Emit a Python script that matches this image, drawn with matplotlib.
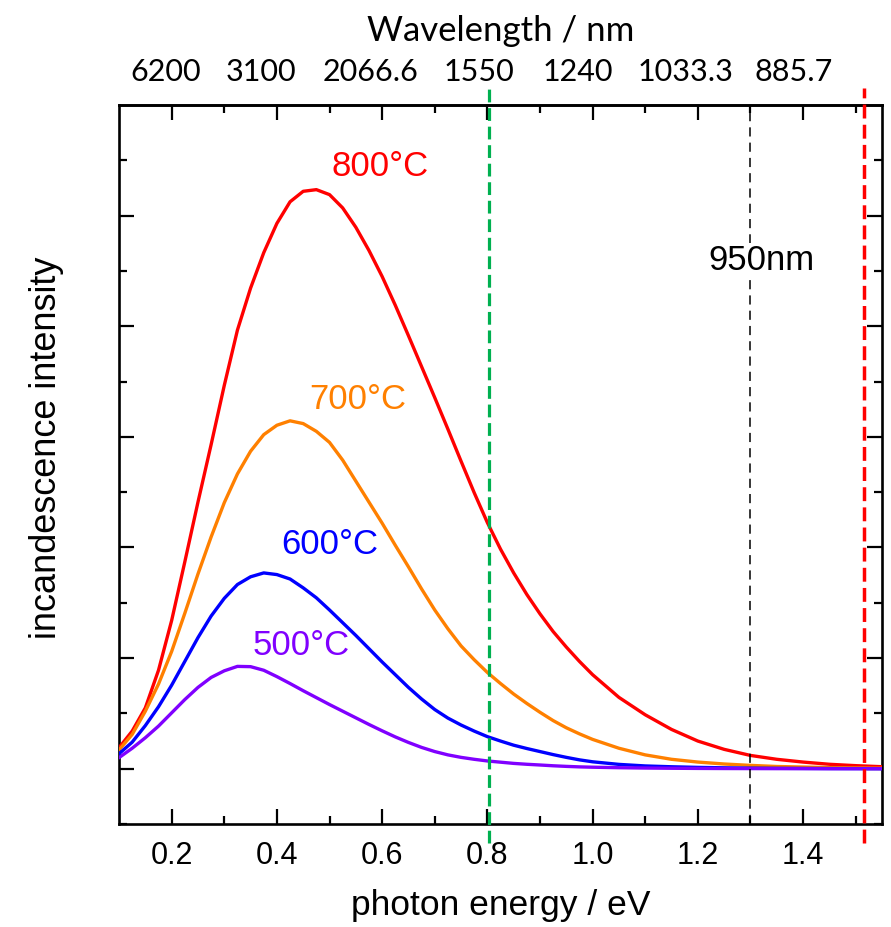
import matplotlib
matplotlib.use("Agg")
import matplotlib.pyplot as plt
import matplotlib.transforms as mtransforms
import numpy as np

# photon energy grid (eV)
energy = [0.100, 0.125, 0.150, 0.175, 0.200, 0.225, 0.250, 0.275, 0.300,
          0.325, 0.350, 0.375, 0.400, 0.425, 0.450, 0.475, 0.500, 0.525,
          0.550, 0.575, 0.600, 0.625, 0.650, 0.675, 0.700, 0.725, 0.750,
          0.775, 0.800, 0.825, 0.850, 0.875, 0.900, 0.925, 0.950, 0.975,
          1.000, 1.05, 1.10, 1.15, 1.20, 1.25, 1.30, 1.35, 1.40, 1.45,
          1.50, 1.55]

# incandescence intensity (arb. units) at each temperature
t800 = [0.38, 0.68, 1.10, 1.78, 2.68, 3.74, 4.82, 5.86, 6.93, 7.93, 8.69,
        9.33, 9.86, 10.25, 10.44, 10.47, 10.38, 10.14, 9.79, 9.37, 8.90,
        8.38, 7.83, 7.27, 6.71, 6.14, 5.56, 4.99, 4.45, 3.97, 3.54, 3.15,
        2.80, 2.48, 2.20, 1.94, 1.70, 1.29, 0.975, 0.71, 0.50, 0.35, 0.24,
        0.17, 0.12, 0.08, 0.055, 0.036]
t700 = [0.34, 0.62, 1.04, 1.53, 2.12, 2.81, 3.52, 4.19, 4.81, 5.33, 5.74,
        6.04, 6.21, 6.29, 6.24, 6.10, 5.90, 5.58, 5.20, 4.82, 4.44, 4.04,
        3.65, 3.25, 2.87, 2.53, 2.22, 1.97, 1.74, 1.54, 1.35, 1.18, 1.02,
        0.87, 0.74, 0.63, 0.53, 0.37, 0.25, 0.17, 0.12, 0.085, 0.06, 0.04,
        0.03, 0.02, 0.015, 0.01]
t600 = [0.27, 0.48, 0.78, 1.12, 1.51, 1.94, 2.37, 2.76, 3.08, 3.33, 3.47,
        3.54, 3.51, 3.43, 3.27, 3.09, 2.87, 2.64, 2.41, 2.17, 1.93, 1.70,
        1.47, 1.26, 1.07, 0.915, 0.79, 0.68, 0.58, 0.50, 0.425, 0.365,
        0.31, 0.255, 0.205, 0.16, 0.125, 0.078, 0.05, 0.035, 0.024, 0.016,
        0.01, 0.007, 0.005, 0.003, 0.002, 0.001]
t500 = [0.20, 0.37, 0.56, 0.77, 1.01, 1.25, 1.47, 1.65, 1.77, 1.85, 1.845,
        1.78, 1.665, 1.54, 1.41, 1.285, 1.16, 1.04, 0.92, 0.80, 0.685,
        0.575, 0.475, 0.385, 0.31, 0.25, 0.205, 0.17, 0.14, 0.118, 0.096,
        0.08, 0.067, 0.053, 0.042, 0.033, 0.027, 0.018, 0.012, 0.008,
        0.005, 0.003, 0.002, 0.001, 0.001, 0.0, 0.0, 0.0]

series = [("800°C", t800, "#FF0000"),
          ("700°C", t700, "#FF8000"),
          ("600°C", t600, "#0000FF"),
          ("500°C", t500, "#8000FF")]

# curve name positions (energy, baseline height)
label_pos = [(0.596, 10.71), (0.554, 6.50), (0.501, 3.875), (0.446, 2.05)]

# top-axis wavelength labels
top_ticks = [0.2, 0.4, 0.6, 0.8, 1.0, 1.2, 1.4]
top_labels = ["6200", "3100", "2066.6", "1550", "1240", "1033.3", "885.7"]
top_label_nudge_px = [-6, -16, -12, -8, -15, -12, -9]

# marker lines (eV)
green_line = 0.803
black_line = 1.30
red_line = 1.515

SANS = "Liberation Sans"

fig = plt.figure(figsize=(8.91, 9.27), dpi=100)
ax = fig.add_axes([0.1336, 0.1111, 0.8563, 0.7756])

for (name, vals, col), lp in zip(series, label_pos):
    ax.plot(energy, vals, color=col, lw=2.4, zorder=3,
            solid_joinstyle="round")
    ax.text(lp[0], lp[1], name, color=col, fontsize=25, family=SANS,
            ha="center", va="baseline")

ax.set_xlim(0.1, 1.55)
ax.set_ylim(-1, 12)

# vertical marker lines extending past the frame
ax.axvline(green_line, ymin=-0.027, ymax=1.024, color="#00B050", lw=2.3,
           dashes=(4, 1.8), clip_on=False, zorder=5)
ax.axvline(red_line, ymin=-0.027, ymax=1.024, color="#FF0000", lw=2.5,
           dashes=(4, 1.8), clip_on=False, zorder=5)
ax.axvline(black_line, color="black", lw=1.1, dashes=(6, 4), zorder=4)
ax.text(1.321, 9.01, "950nm", fontsize=25, family=SANS,
        ha="center", va="baseline", zorder=6,
        bbox=dict(facecolor="white", edgecolor="none", pad=1))

# ticks
ax.set_xticks([0.2, 0.4, 0.6, 0.8, 1.0, 1.2, 1.4])
ax.set_xticklabels(["0.2", "0.4", "0.6", "0.8", "1.0", "1.2", "1.4"],
                   family=SANS, fontsize=22)
ax.set_xticks(np.arange(0.3, 1.55, 0.2), minor=True)
ax.set_yticks([0, 2, 4, 6, 8, 10])
ax.set_yticks([-1, 1, 3, 5, 7, 9, 11], minor=True)
ax.set_yticklabels([])
ax.tick_params(which="both", direction="in", top=False, right=True,
               width=1.6, color="black")
ax.tick_params(which="major", length=10.5, pad=12)
ax.tick_params(which="minor", length=5.5)
for sp in ax.spines.values():
    sp.set_linewidth(1.9)

ax.set_xlabel("photon energy / eV", family=SANS, fontsize=25.5, labelpad=13)
ax.set_ylabel("incandescence intensity", family=SANS, fontsize=26)
ax.yaxis.set_label_coords(-0.072, 0.524)

# wavelength axis on top
top = ax.secondary_xaxis("top")
top.set_xticks(top_ticks)
top.set_xticklabels(top_labels, family="Lato", fontsize=22)
top.set_xticks(np.arange(0.3, 1.55, 0.2), minor=True)
top.tick_params(which="both", direction="in", width=1.6, pad=14)
top.tick_params(which="major", length=10.5)
top.tick_params(which="minor", length=5.5)
top.spines["top"].set_linewidth(1.9)
top.set_xlabel("Wavelength / nm", family="Lato", fontsize=25, labelpad=12)
for lbl, dx in zip(top.get_xticklabels(), top_label_nudge_px):
    shift = mtransforms.ScaledTranslation(dx / 100, 0, fig.dpi_scale_trans)
    lbl.set_transform(lbl.get_transform() + shift)

fig.savefig("out.png", dpi=100)
